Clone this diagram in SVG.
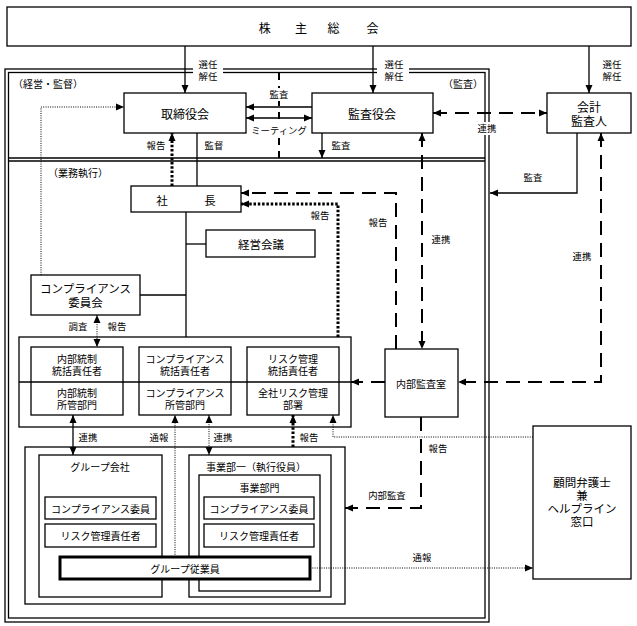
<svg xmlns="http://www.w3.org/2000/svg" width="637" height="626" viewBox="0 0 637 626">
<style>
text{font-family:"Noto Sans CJK JP","Noto Sans CJK SC",sans-serif;fill:#000;dominant-baseline:central;text-anchor:middle}
.b{fill:#fff;stroke:#000;stroke-width:1.3}
.t12{font-size:12px}
.t11{font-size:11.5px}
.t10{font-size:10px}
.lb{font-size:9.4px}
.s{fill:none;stroke:#000;stroke-width:1.3}
.d{fill:none;stroke:#000;stroke-width:2;stroke-dasharray:14 8}
.dd{fill:none;stroke:#000;stroke-width:3;stroke-dasharray:2.5 1.8}
.td{fill:none;stroke:#000;stroke-width:1;stroke-dasharray:1 1.3}
.ah{marker-end:url(#a)}
.ah2{marker-start:url(#a);marker-end:url(#a)}
</style>
<defs>
<marker id="a" viewBox="0 0 8 8" refX="8" refY="4" markerWidth="8" markerHeight="8" markerUnits="userSpaceOnUse" orient="auto-start-reverse">
<path d="M0,0.5 L8,4 L0,7.5 z" fill="#000"/>
</marker>
</defs>
<rect width="637" height="626" fill="#fff"/>

<g id="frame">
<rect x="5" y="69" width="484" height="553" fill="none" stroke="#000" stroke-width="1.3"/>
<rect x="8.5" y="72.5" width="476.5" height="545.5" fill="none" stroke="#000" stroke-width="1.3"/>
<line x1="8.5" y1="158" x2="485" y2="158" stroke="#000" stroke-width="1.3"/>
<line x1="8.5" y1="161" x2="485" y2="161" stroke="#000" stroke-width="1.3"/>
<rect x="193" y="66" width="30" height="10" fill="#fff"/>
<rect x="377" y="66" width="32" height="10" fill="#fff"/>
<text x="13" y="83" style="text-anchor:start;font-size:10px">（経営・監督）</text>
<text x="443" y="83" style="text-anchor:start;font-size:10px">（監査）</text>
<text x="48" y="172" style="text-anchor:start;font-size:10px">（業務執行）</text>
</g>

<g id="shareholders">
<rect x="7" y="7" width="624" height="39" class="b"/>
<text x="264.7 301 333.5 372.5" y="27" class="t12">株主総会</text>
</g>
<g id="board">
<rect x="124" y="93" width="122" height="40" class="b"/>
<text x="185" y="113" class="t12">取締役会</text>
</g>
<g id="auditors">
<rect x="312" y="93" width="121" height="40" class="b"/>
<text x="372" y="113" class="t12">監査役会</text>
</g>
<g id="accounting-auditor">
<rect x="547" y="93" width="84" height="40" class="b"/>
<text x="589" y="106" class="t12">会計</text>
<text x="589" y="120" class="t12">監査人</text>
</g>
<g id="president">
<rect x="131" y="186" width="110" height="26" class="b"/>
<text x="162 210" y="200" class="t11">社長</text>
</g>
<g id="management-meeting">
<rect x="206" y="230" width="109" height="27" class="b"/>
<text x="261" y="244" class="t11">経営会議</text>
</g>
<g id="compliance-committee">
<rect x="31" y="275" width="109" height="40" class="b"/>
<text x="85.5" y="288" class="t11">コンプライアンス</text>
<text x="85.5" y="302" class="t11">委員会</text>
</g>
<g id="control-group">
<rect x="19" y="337" width="332" height="90" class="b"/>
<rect x="31" y="347" width="92" height="68" class="b"/>
<rect x="139" y="347" width="92" height="68" class="b"/>
<rect x="247" y="347" width="92" height="68" class="b"/>
<line x1="19" y1="382" x2="351" y2="382" class="s"/>
<text x="77" y="358.5" class="t10">内部統制</text>
<text x="77" y="370.5" class="t10">統括責任者</text>
<text x="77" y="392.5" class="t10">内部統制</text>
<text x="77" y="404.5" class="t10">所管部門</text>
<text x="185" y="358.5" class="t10">コンプライアンス</text>
<text x="185" y="370.5" class="t10">統括責任者</text>
<text x="185" y="392.5" class="t10">コンプライアンス</text>
<text x="185" y="404.5" class="t10">所管部門</text>
<text x="293" y="358.5" class="t10">リスク管理</text>
<text x="293" y="370.5" class="t10">統括責任者</text>
<text x="293" y="392.5" class="t10">全社リスク管理</text>
<text x="293" y="404.5" class="t10">部署</text>
</g>
<g id="internal-audit">
<rect x="385" y="349" width="73" height="68" class="b"/>
<text x="421" y="383" class="t10">内部監査室</text>
</g>
<g id="helpline">
<rect x="533" y="426" width="98" height="153" class="b"/>
<text x="582" y="482" class="t11">顧問弁護士</text>
<text x="582" y="495" class="t11">兼</text>
<text x="582" y="508" class="t11">ヘルプライン</text>
<text x="582" y="521" class="t11">窓口</text>
</g>
<g id="operations">
<rect x="25" y="447" width="320" height="157" class="b"/>
</g>
<g id="group-companies">
<rect x="39" y="455" width="123" height="142" class="b"/>
<text x="100" y="466" class="t10">グループ会社</text>
<rect x="45" y="497" width="111" height="22" class="b"/>
<text x="100.5" y="508" class="t10">コンプライアンス委員</text>
<rect x="45" y="524" width="111" height="23" class="b"/>
<text x="100.5" y="535.5" class="t10">リスク管理責任者</text>
</g>
<g id="business-division">
<rect x="189" y="455" width="142" height="142" class="b"/>
<text x="256" y="466" class="t10">事業部一（執行役員）</text>
<rect x="199" y="475" width="121" height="116" class="b"/>
<text x="259.5" y="487" class="t10">事業部門</text>
<rect x="204" y="497" width="110" height="22" class="b"/>
<text x="259" y="508" class="t10">コンプライアンス委員</text>
<rect x="204" y="524" width="110" height="23" class="b"/>
<text x="259" y="535.5" class="t10">リスク管理責任者</text>
</g>
<g id="group-employees">
<rect x="60" y="557" width="250" height="22" fill="#fff" stroke="#000" stroke-width="3"/>
<text x="185" y="568" class="t10">グループ従業員</text>
</g>

<g id="connectors">
<line x1="185" y1="46" x2="185" y2="93" class="s ah"/>
<line x1="373" y1="46" x2="373" y2="93" class="s ah"/>
<line x1="589" y1="46" x2="589" y2="93" class="s ah"/>
<line x1="312" y1="107" x2="246" y2="107" class="s ah"/>
<line x1="246" y1="118" x2="312" y2="118" class="s ah2"/>
<line x1="279" y1="73" x2="279" y2="158" style="fill:none;stroke:#000;stroke-width:2;stroke-dasharray:7 6"/>
<line x1="433" y1="113" x2="547" y2="113" class="d ah2"/>
<line x1="322" y1="133" x2="322" y2="158" class="s ah"/>
<line x1="422" y1="133" x2="422" y2="349" class="d ah2"/>
<path d="M577,133 V193 H490" class="s ah"/>
<path d="M601,133 V382 H458" class="d ah2"/>
<line x1="197" y1="133" x2="197" y2="186" class="s"/>
<line x1="172" y1="186" x2="172" y2="133" class="dd ah"/>
<path d="M41,275 V107 H124" class="td ah"/>
<line x1="186" y1="212" x2="186" y2="337" class="s"/>
<line x1="186" y1="244" x2="206" y2="244" class="s"/>
<line x1="140" y1="295" x2="186" y2="295" class="s"/>
<path d="M396,349 V193 H241" class="d ah"/>
<path d="M338,337 V204 H241" class="dd ah"/>
<line x1="97" y1="315" x2="97" y2="347" class="td ah2"/>
<line x1="385" y1="382" x2="351" y2="382" class="d ah"/>
<path d="M421,417 V508 H345" class="d ah"/>
<path d="M533,437 H333 V415" class="td ah"/>
<line x1="310" y1="568" x2="533" y2="568" class="td ah"/>
<line x1="73" y1="415" x2="73" y2="455" class="s ah2"/>
<line x1="175" y1="557" x2="175" y2="415" class="td ah"/>
<line x1="209" y1="415" x2="209" y2="455" class="td ah2"/>
<line x1="293" y1="447" x2="293" y2="415" class="dd ah"/>
<text x="208" y="63.5" class="lb">選任</text>
<text x="208" y="75.5" class="lb">解任</text>
<text x="394" y="63.5" class="lb">選任</text>
<text x="394" y="75.5" class="lb">解任</text>
<text x="612" y="63.5" class="lb">選任</text>
<text x="612" y="75.5" class="lb">解任</text>
<rect x="268" y="88" width="22" height="13" fill="#fff"/>
<text x="279" y="94" class="lb">監査</text>
<rect x="249" y="124" width="60" height="12" fill="#fff"/>
<text x="279" y="130" class="lb">ミーティング</text>
<text x="156" y="145" class="lb">報告</text>
<text x="214" y="145" class="lb">監督</text>
<text x="341" y="145" class="lb">監査</text>
<rect x="476" y="122" width="22" height="13" fill="#fff"/>
<text x="487" y="128" class="lb">連携</text>
<text x="533" y="177" class="lb">監査</text>
<text x="320" y="215" class="lb">報告</text>
<text x="378" y="222" class="lb">報告</text>
<text x="441" y="239" class="lb">連携</text>
<text x="582" y="256" class="lb">連携</text>
<text x="78" y="326" class="lb">調査</text>
<text x="117" y="326" class="lb">報告</text>
<text x="88" y="437" class="lb">連携</text>
<text x="159" y="437" class="lb">通報</text>
<text x="223" y="437" class="lb">連携</text>
<text x="309" y="437" class="lb">報告</text>
<text x="438" y="448" class="lb">報告</text>
<text x="387" y="495" class="lb">内部監査</text>
<text x="422" y="557" class="lb">通報</text>
</g>
</svg>
